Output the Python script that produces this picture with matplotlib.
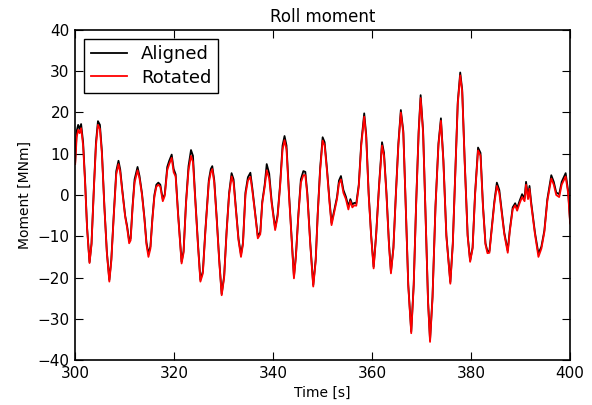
import matplotlib
matplotlib.use("Agg")
import matplotlib.pyplot as plt

time = [300.0, 300.3, 300.6, 300.9, 301.2, 301.6, 302.0, 302.4, 302.9, 303.3,
        303.8, 304.2, 304.6, 305.0, 305.4, 305.9, 306.4, 306.9, 307.3, 307.8,
        308.3, 308.75, 309.1, 309.5, 310.1, 310.5, 310.9, 311.2, 311.6, 312.0,
        312.6, 313.0, 313.5, 314.0, 314.4, 314.8, 315.2, 315.6, 316.0, 316.4,
        316.8, 317.2, 317.7, 318.1, 318.6, 319.0, 319.5, 319.9, 320.3, 320.8,
        321.5, 321.9, 322.4, 322.9, 323.4, 323.8, 324.2, 324.8, 325.3, 325.8,
        326.3, 327.0, 327.4, 327.7, 328.1, 328.6, 329.1, 329.6, 330.1, 330.6,
        331.1, 331.6, 332.0, 332.5, 333.0, 333.5, 333.9, 334.4, 334.9, 335.4,
        335.8, 336.3, 336.9, 337.4, 337.8, 338.3, 338.7, 339.2, 339.7, 340.4,
        340.9, 341.4, 341.9, 342.3, 342.7, 343.2, 343.7, 344.2, 344.6, 345.1,
        345.6, 346.1, 346.5, 346.9, 347.5, 348.1, 348.6, 349.0, 349.5, 350.0,
        350.4, 350.9, 351.4, 351.8, 352.2, 352.9, 353.3, 353.7, 354.2, 354.7,
        355.2, 355.6, 356.0, 356.4, 356.8, 357.3, 357.8, 358.4, 358.8, 359.3,
        359.8, 360.3, 360.8, 361.4, 362.0, 362.4, 362.9, 363.4, 363.8, 364.3,
        364.8, 365.3, 365.8, 366.3, 366.8, 367.3, 367.9, 368.4, 368.9, 369.4,
        369.8, 370.3, 370.8, 371.3, 371.7, 372.2, 372.8, 373.4, 373.9, 374.4,
        375.0, 375.8, 376.3, 376.8, 377.3, 377.8, 378.2, 378.7, 379.3, 379.8,
        380.3, 380.8, 381.4, 381.9, 382.4, 382.9, 383.3, 383.7, 384.2, 384.7,
        385.2, 385.7, 386.2, 386.7, 387.1, 387.4, 387.8, 388.4, 388.9, 389.3,
        389.8, 390.3, 390.8, 391.1, 391.5, 391.8, 392.1, 392.9, 393.6, 394.2,
        394.8, 395.4, 396.2, 396.7, 397.2, 397.8, 398.3, 399.1, 399.6, 400.0]

rotated = [7.5, 14.0, 15.8, 15.0, 16.2, 12.0, 3.0, -8.0, -16.5, -12.0,
           2.0, 12.0, 17.0, 16.0, 10.0, -3.0, -14.0, -21.0, -16.0, -5.0,
           5.0, 7.5, 5.5, 1.0, -5.3, -8.0, -11.7, -11.0, -3.0, 3.0,
           6.0, 4.0, 0.0, -6.0, -12.0, -15.0, -13.0, -6.0, -0.5, 2.0,
           2.5, 2.0, -1.5, -0.2, 6.0, 7.5, 9.0, 5.5, 4.5, -5.0,
           -16.6, -14.0, -2.0, 6.0, 9.5, 8.0, 0.0, -12.0, -21.0, -19.0,
           -9.0, 3.0, 5.5, 6.3, 3.0, -6.0, -16.0, -24.3, -20.0, -9.0,
           0.0, 4.5, 3.0, -4.0, -11.0, -15.0, -12.0, 0.0, 3.5, 4.4,
           1.0, -4.0, -10.5, -9.5, -2.0, 2.0, 6.0, 4.0, -2.0, -8.5,
           -5.3, 2.0, 11.0, 13.3, 11.0, 0.0, -10.0, -20.2, -15.0, -5.0,
           3.0, 4.8, 4.8, 0.0, -12.0, -22.2, -16.0, -5.0, 6.0, 13.2,
           12.0, 5.5, -2.0, -7.3, -5.0, -1.0, 2.8, 3.8, 0.5, -1.0,
           -3.5, -1.5, -3.0, -2.5, -2.6, 2.0, 12.0, 19.0, 14.0, 0.0,
           -10.0, -17.8, -10.0, 2.0, 12.0, 9.5, 0.0, -12.0, -19.0, -13.0,
           0.0, 12.0, 20.0, 15.0, -3.0, -22.0, -33.5, -22.0, -2.0, 15.0,
           23.5, 15.0, -5.0, -26.0, -35.6, -25.0, -3.0, 12.0, 18.0, 8.0,
           -10.0, -21.5, -12.0, 5.0, 22.0, 29.0, 25.0, 8.0, -10.0, -16.2,
           -13.0, 0.0, 10.8, 9.5, -3.0, -12.0, -14.1, -14.0, -8.0, -2.0,
           2.2, 0.5, -4.5, -9.5, -12.1, -14.0, -9.0, -3.5, -2.5, -3.8,
           -2.0, -0.5, -1.5, 2.5, -1.0, 1.5, -2.0, -9.5, -15.0, -13.0,
           -9.0, -1.5, 4.0, 2.5, 0.0, -0.5, 2.5, 4.5, 0.5, -6.9]

aligned = [8.0, 15.5, 17.0, 16.0, 17.2, 12.8, 3.5, -7.8, -16.3, -11.7,
           2.4, 12.8, 17.9, 17.0, 10.6, -2.7, -13.8, -20.6, -15.6, -4.6,
           5.8, 8.3, 6.2, 1.5, -5.0, -7.6, -11.0, -10.5, -2.6, 3.8,
           6.8, 4.6, 0.4, -5.6, -11.5, -14.2, -12.5, -5.6, 0.0, 2.5,
           3.0, 2.5, -1.0, 0.2, 6.8, 8.3, 9.8, 6.3, 5.0, -4.6,
           -16.2, -13.6, -1.6, 7.0, 10.9, 9.5, 0.5, -11.6, -20.6, -18.5,
           -8.6, 3.6, 6.3, 7.0, 3.6, -5.6, -15.6, -24.0, -19.6, -8.6,
           0.5, 5.3, 3.8, -3.6, -10.6, -14.4, -11.6, 0.6, 4.3, 5.4,
           1.6, -3.6, -10.0, -9.0, -1.6, 2.6, 7.5, 5.2, -1.5, -8.0,
           -4.8, 2.5, 12.0, 14.3, 12.0, 0.5, -9.6, -19.8, -14.6, -4.6,
           3.8, 5.8, 5.6, 0.5, -11.6, -21.8, -15.6, -4.6, 6.6, 14.0,
           12.8, 6.0, -1.5, -6.8, -4.5, -0.5, 3.5, 4.6, 1.2, -0.4,
           -2.8, -1.0, -2.3, -1.9, -2.0, 2.5, 12.6, 19.8, 14.6, 0.4,
           -9.7, -17.4, -9.7, 2.4, 12.8, 10.2, 0.4, -11.7, -18.6, -12.7,
           0.4, 12.5, 20.6, 15.5, -2.7, -21.7, -33.1, -21.7, -1.7, 15.5,
           24.2, 15.5, -4.7, -25.7, -35.2, -24.7, -2.7, 12.5, 18.6, 8.4,
           -9.7, -21.1, -11.7, 5.4, 22.5, 29.7, 25.5, 8.4, -9.7, -15.9,
           -12.7, 0.4, 11.5, 10.2, -2.6, -11.7, -13.6, -13.6, -7.6, -1.5,
           3.0, 1.2, -4.0, -9.1, -11.6, -13.5, -8.6, -3.0, -2.0, -3.2,
           -1.4, 0.2, -0.8, 3.2, -0.4, 2.2, -1.4, -9.1, -14.2, -12.5,
           -8.6, -1.0, 4.8, 3.2, 0.6, 0.2, 3.2, 5.3, 1.0, -6.5]

fig = plt.figure(figsize=(5.92, 4.05), dpi=100)
ax = fig.add_axes([0.127, 0.111, 0.836, 0.815])

ax.plot(time, aligned, color="black", lw=1.3, label="Aligned")
ax.plot(time, rotated, color="red", lw=1.3, label="Rotated")

ax.set_xlim(300, 400)
ax.set_ylim(-40, 40)
ax.set_xticks(range(300, 401, 20))
ax.set_yticks(range(-40, 41, 10))
ax.tick_params(direction="in", top=True, right=True, length=6, labelsize=11, pad=4)
for s in ax.spines.values():
    s.set_linewidth(1.2)

ax.set_title("Roll moment", fontsize=12)
ax.set_xlabel("Time [s]", fontsize=10)
ax.set_ylabel("Moment [MNm]", fontsize=10)

leg = ax.legend(loc="upper left", fontsize=13, fancybox=False, framealpha=1,
                edgecolor="black", handlelength=2.0, borderpad=0.35,
                labelspacing=0.3, handletextpad=0.8)
leg.get_frame().set_linewidth(1.0)

fig.savefig("out.png", dpi=100)
